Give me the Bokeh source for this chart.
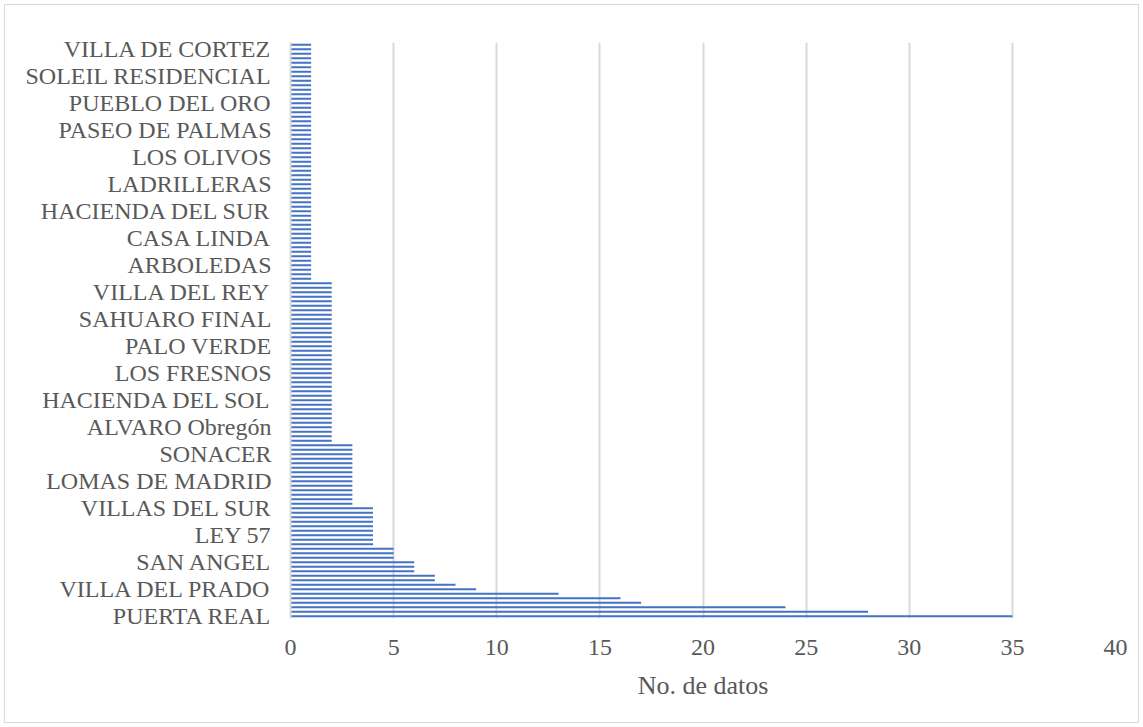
from bokeh.plotting import figure
from bokeh.models import FixedTicker, Range1d, ColumnDataSource
from bokeh.embed import file_html
from bokeh.resources import INLINE

# Number of records per neighbourhood, ordered from the bottom row to the top row
counts = (
    [35, 28, 24, 17, 16, 13, 9, 8, 7, 7, 6, 6, 6, 5, 5, 5]
    + [4] * 9
    + [3] * 14
    + [2] * 36
    + [1] * 53
)

# Names shown on the axis (every sixth row, starting from the bottom)
shown_names = [
    "PUERTA REAL", "VILLA DEL PRADO", "SAN ANGEL", "LEY 57", "VILLAS DEL SUR",
    "LOMAS DE MADRID", "SONACER", "ALVARO Obregón", "HACIENDA DEL SOL",
    "LOS FRESNOS", "PALO VERDE", "SAHUARO FINAL", "VILLA DEL REY",
    "ARBOLEDAS", "CASA LINDA", "HACIENDA DEL SUR", "LADRILLERAS",
    "LOS OLIVOS", "PASEO DE PALMAS", "PUEBLO DEL ORO", "SOLEIL RESIDENCIAL",
    "VILLA DE CORTEZ",
]
label_step = 6
x_ticks = [0, 5, 10, 15, 20, 25, 30, 35, 40]

rows = list(range(len(counts)))
src = ColumnDataSource(dict(y=rows, right=counts))

p = figure(
    width=1135, height=719,
    output_backend="svg", toolbar_location=None,
    x_range=Range1d(0, 40), y_range=Range1d(-0.5, len(counts) - 0.5),
    min_border_left=285, min_border_right=25,
    min_border_top=37, min_border_bottom=106,
)
p.styles = {"margin-left": "4px", "margin-top": "4px", "border": "1px solid #D9D9D9"}
p.outline_line_color = None
p.background_fill_color = "white"
p.border_fill_color = "white"

p.hbar(y="y", left=0, right="right", height=0.42, source=src,
       fill_color="#4472C4", line_color=None)

serif = "Liberation Serif"
grey = "#595959"

# x axis
p.xaxis.ticker = FixedTicker(ticks=x_ticks)
p.xaxis.axis_line_color = None
p.xaxis.major_tick_line_color = None
p.xaxis.minor_tick_line_color = None
p.xaxis.major_label_text_font = serif
p.xaxis.major_label_text_font_size = "24px"
p.xaxis.major_label_text_color = grey
p.xaxis.major_label_standoff = 15
p.xaxis.axis_label = "No. de datos"
p.xaxis.axis_label_text_font = serif
p.xaxis.axis_label_text_font_style = "normal"
p.xaxis.axis_label_text_font_size = "26px"
p.xaxis.axis_label_standoff = 13
p.xaxis.axis_label_text_color = grey

# y axis
y_ticks = [i * label_step for i in range(len(shown_names))]
p.yaxis.ticker = FixedTicker(ticks=y_ticks)
p.yaxis.major_label_overrides = {t: n for t, n in zip(y_ticks, shown_names)}
p.yaxis.axis_line_color = "#D9D9D9"
p.yaxis.axis_line_width = 2
p.yaxis.major_tick_line_color = None
p.yaxis.minor_tick_line_color = None
p.yaxis.major_label_text_font = serif
p.yaxis.major_label_text_font_size = "24px"
p.yaxis.major_label_text_color = grey
p.yaxis.major_label_standoff = 13

p.xgrid.grid_line_color = "#D9D9D9"
p.xgrid.grid_line_width = 2
p.ygrid.grid_line_color = None

open("out.html", "w").write(file_html(p, INLINE))
